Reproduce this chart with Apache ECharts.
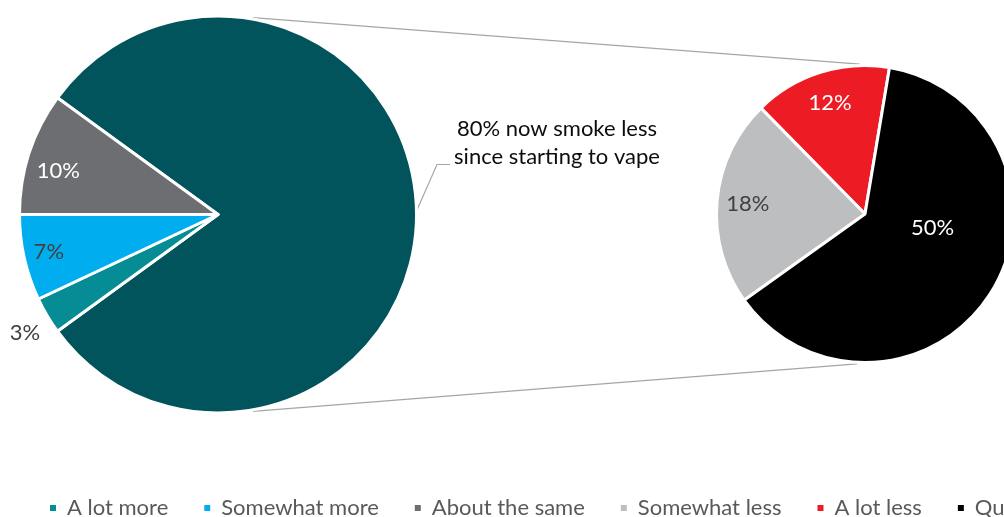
<!DOCTYPE html>
<html><head><meta charset="utf-8">
<script src="https://cdn.jsdelivr.net/npm/echarts@6/dist/echarts.min.js"></script>
<style>html,body{margin:0;padding:0;background:#fff}#c{width:1004px;height:517px}</style>
</head><body><div id="c"></div>
<script>
// ---- data ----
const mainCategories = ['Smoke less', 'A lot more', 'Somewhat more', 'About the same'];
const mainValues = [80, 3, 7, 10];
const detailCategories = ['A lot less', 'Somewhat less', 'Quit'];
const detailValues = [12, 18, 50];
const legendCategories = ['A lot more', 'Somewhat more', 'About the same', 'Somewhat less', 'A lot less', 'Quit'];
const calloutText = ['80% now smoke less', 'since starting to vape'];

// ---- style ----
const colors = {
  'Smoke less': '#02545C', 'A lot more': '#058C95', 'Somewhat more': '#00AEEF',
  'About the same': '#6D6E71', 'Somewhat less': '#BCBEC0', 'A lot less': '#ED1C24', 'Quit': '#000000'
};
const FONT = 'Lato';
const FS = 22;
const mainPie = { cx: 218, cy: 214.5, r: 197, startAngle: 144, clockwise: true };
const detailPie = { cx: 865, cy: 214, r: 147, startAngle: 80.5, clockwise: false };
const labelStyle = {
  'A lot more': { f: 1.15, da: 1, color: '#404040' },
  'Somewhat more': { f: 0.88, da: 0, color: '#404040' },
  'About the same': { f: 0.84, da: 2.7, color: '#FFFFFF' },
  'A lot less': { f: 0.79, da: 0, color: '#FFFFFF' },
  'Somewhat less': { f: 0.80, da: 0, color: '#404040' },
  'Quit': { f: 0.47, da: 20.4, color: '#FFFFFF' }
};

function midAngles(values, pie) {
  const total = values.reduce((a, b) => a + b, 0);
  let cum = 0;
  return values.map(v => {
    const m = (cum + v / 2) / total * 360;
    cum += v;
    return pie.clockwise ? pie.startAngle - m : pie.startAngle + m;
  });
}
function polar(pie, angleDeg, rad) {
  const a = angleDeg * Math.PI / 180;
  return [pie.cx + rad * Math.cos(a), pie.cy - rad * Math.sin(a)];
}
function makeLayout(cats, values, pie) {
  const mids = midAngles(values, pie);
  return function (p) {
    const s = labelStyle[cats[p.dataIndex]];
    if (!s) return {};
    const pt = polar(pie, mids[p.dataIndex] + s.da, s.f * pie.r);
    return { x: pt[0], y: pt[1], align: 'center', verticalAlign: 'middle' };
  };
}
function pieSeries(cats, values, pie) {
  return {
    type: 'pie', silent: true, animation: false,
    center: [pie.cx, pie.cy], radius: pie.r + 1.5,
    startAngle: pie.startAngle, clockwise: pie.clockwise,
    avoidLabelOverlap: false, emphasis: { disabled: true },
    itemStyle: { borderColor: '#FFFFFF', borderWidth: 3 },
    label: { show: true, position: 'inside', formatter: '{c}%', fontFamily: FONT, fontSize: FS },
    labelLine: { show: false },
    labelLayout: makeLayout(cats, values, pie),
    data: cats.map((n, i) => ({
      name: n, value: values[i],
      itemStyle: { color: colors[n] },
      label: labelStyle[n] ? { color: labelStyle[n].color } : { show: false }
    }))
  };
}

// callout leader line & connector lines, derived from pie geometry
const calloutStart = polar(mainPie, 0, mainPie.r);
const calloutElbow = [calloutStart[0] + 22, calloutStart[1] - 50];
const calloutEnd = [calloutElbow[0] + 13, calloutElbow[1]];
const calloutTextPos = [calloutEnd[0] + 107, calloutEnd[1] - 22];
const topA = polar(mainPie, 80, mainPie.r + 3), topB = polar(detailPie, 92, detailPie.r + 3);
const botA = polar(mainPie, -80, mainPie.r + 3), botB = polar(detailPie, -93, detailPie.r + 3);

const chart = echarts.init(document.getElementById('c'), null, { renderer: 'canvas' });
chart.setOption({
  animation: false,
  backgroundColor: '#FFFFFF',
  legend: {
    data: legendCategories, left: 48, top: 497, width: 1500, padding: 0,
    icon: 'rect', itemWidth: 8, itemHeight: 8, itemGap: 34, selectedMode: false,
    textStyle: { fontFamily: FONT, fontSize: FS, color: '#595959', padding: [0, 0, 0, 5] }
  },
  graphic: [
    { type: 'line', silent: true, z: 1, shape: { x1: topA[0], y1: topA[1], x2: topB[0], y2: topB[1] }, style: { stroke: '#A6A6A6', lineWidth: 1.2 } },
    { type: 'line', silent: true, z: 1, shape: { x1: botA[0], y1: botA[1], x2: botB[0], y2: botB[1] }, style: { stroke: '#A6A6A6', lineWidth: 1.2 } },
    { type: 'polyline', silent: true, z: 1, shape: { points: [calloutStart, calloutElbow, calloutEnd] }, style: { stroke: '#A6A6A6', lineWidth: 1.2, fill: null } },
    { type: 'text', silent: true, x: calloutTextPos[0], y: calloutTextPos[1],
      style: { text: calloutText.join('\n'), align: 'center', verticalAlign: 'middle', fontFamily: FONT, fontSize: FS, lineHeight: 28, fill: '#0D0D0D' } }
  ],
  series: [
    pieSeries(mainCategories, mainValues, mainPie),
    pieSeries(detailCategories, detailValues, detailPie)
  ]
});
</script></body></html>
